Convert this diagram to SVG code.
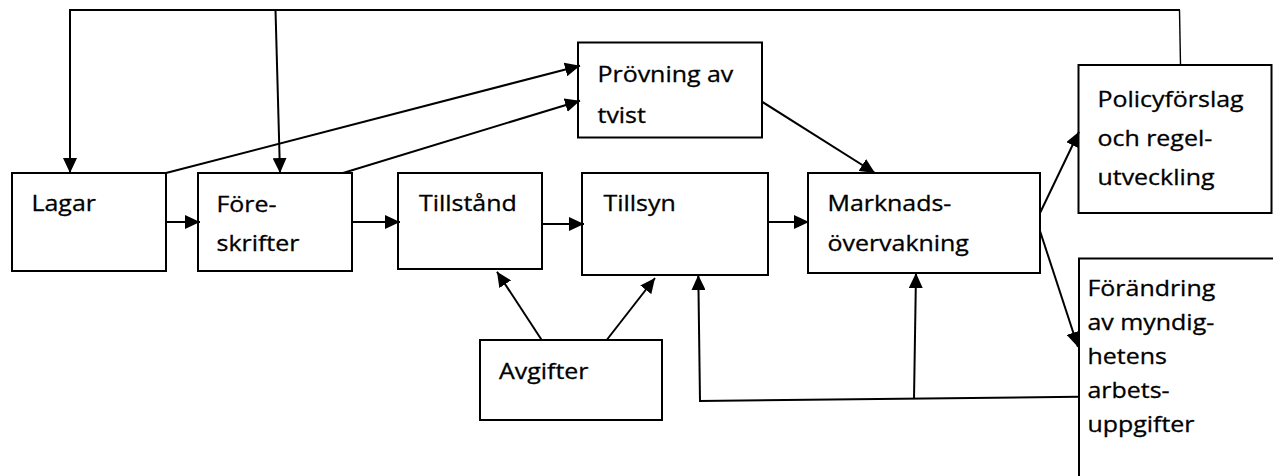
<svg xmlns="http://www.w3.org/2000/svg" width="1273" height="476" viewBox="0 0 1273 476">
  <style>
    .box { fill: #fff; stroke: #000; stroke-width: 2; }
    .lbl { font-family: "Open Sans", "Noto Sans", "Liberation Sans", sans-serif; font-size: 21.5px; fill: #000; stroke: #000; stroke-width: 0.3; }
    .edge { fill: none; stroke: #000; stroke-width: 2; }
    .thin { fill: none; stroke: #000; stroke-width: 1.4; }
    .arr { marker-end: url(#head); }
  </style>
  <defs>
    <marker id="head" markerUnits="userSpaceOnUse" markerWidth="15" markerHeight="14" refX="15" refY="7" orient="auto">
      <path d="M0,0 L15,7 L0,14 Z" fill="#000"/>
    </marker>
  </defs>
  <rect width="1273" height="476" fill="#fff"/>

  <!-- process boxes; labels are set slightly wide (scaleX 1.16) -->
  <g id="lagar">
    <rect class="box" x="12" y="173" width="154" height="98"/>
    <text class="lbl" transform="translate(31.5 211) scale(1.16 1)">Lagar</text>
  </g>
  <g id="foreskrifter">
    <rect class="box" x="198" y="173" width="154" height="98"/>
    <text class="lbl" transform="translate(216.5 211.5) scale(1.16 1)">Före-<tspan x="0" dy="40">skrifter</tspan></text>
  </g>
  <g id="tillstand">
    <rect class="box" x="398" y="173" width="144" height="96"/>
    <text class="lbl" transform="translate(419 211) scale(1.16 1)">Tillstånd</text>
  </g>
  <g id="tillsyn">
    <rect class="box" x="582" y="173" width="186" height="102"/>
    <text class="lbl" transform="translate(603.5 211) scale(1.16 1)">Tillsyn</text>
  </g>
  <g id="marknadsovervakning">
    <rect class="box" x="808" y="173" width="232" height="100"/>
    <text class="lbl" transform="translate(827.5 211) scale(1.16 1)">Marknads-<tspan x="0" dy="40">övervakning</tspan></text>
  </g>
  <g id="provning">
    <rect class="box" x="578" y="42.5" width="184" height="95"/>
    <text class="lbl" transform="translate(597.5 81.7) scale(1.16 1)">Prövning av<tspan x="0" dy="41">tvist</tspan></text>
  </g>
  <g id="policyforslag">
    <rect class="box" x="1078.5" y="65" width="193" height="148"/>
    <text class="lbl" transform="translate(1097.5 107.3) scale(1.16 1)">Policyförslag<tspan x="0" dy="39">och regel-</tspan><tspan x="0" dy="39">utveckling</tspan></text>
  </g>
  <g id="avgifter">
    <rect class="box" x="480" y="340" width="182" height="80"/>
    <text class="lbl" transform="translate(499 379.3) scale(1.16 1)">Avgifter</text>
  </g>
  <g id="forandring">
    <rect class="box" x="1079" y="258.5" width="250" height="250"/>
    <text class="lbl" transform="translate(1087.5 295.7) scale(1.16 1)">Förändring<tspan x="0" dy="34">av myndig-</tspan><tspan x="0" dy="34">hetens</tspan><tspan x="0" dy="34">arbets-</tspan><tspan x="0" dy="34">uppgifter</tspan></text>
  </g>

  <!-- connectors -->
  <g id="connectors">
    <!-- feedback from policy proposals back to laws and regulations -->
    <line class="edge" x1="69" y1="10" x2="1180" y2="10"/>
    <line class="thin" x1="1179.5" y1="10" x2="1180.5" y2="65"/>
    <line class="edge arr" x1="70" y1="10" x2="70" y2="173"/>
    <line class="edge arr" x1="275.5" y1="10" x2="280" y2="173"/>

    <!-- main chain -->
    <line class="edge arr" x1="166" y1="222" x2="200" y2="222"/>
    <line class="edge arr" x1="352" y1="222" x2="400" y2="222"/>
    <line class="edge arr" x1="542" y1="224" x2="584" y2="224"/>
    <line class="edge arr" x1="768" y1="222" x2="809" y2="222"/>

    <!-- dispute review -->
    <line class="edge arr" x1="166" y1="173" x2="580" y2="65.7"/>
    <line class="edge arr" x1="343" y1="173" x2="580" y2="100.7"/>
    <line class="edge arr" x1="762" y1="101.7" x2="875" y2="173"/>

    <!-- outputs of market monitoring -->
    <line class="edge arr" x1="1040" y1="213" x2="1079" y2="131.7"/>
    <line class="edge arr" x1="1040" y1="231" x2="1078" y2="347"/>

    <!-- fees -->
    <line class="edge arr" x1="541.7" y1="340" x2="497" y2="271.7"/>
    <line class="edge arr" x1="606.7" y1="340" x2="655" y2="278"/>

    <!-- feedback from changed agency tasks -->
    <line class="edge" x1="1079" y1="396.7" x2="699" y2="401"/>
    <line class="edge arr" x1="700" y1="401" x2="698.3" y2="275"/>
    <line class="edge arr" x1="914" y1="399" x2="916" y2="273"/>
  </g>
</svg>
